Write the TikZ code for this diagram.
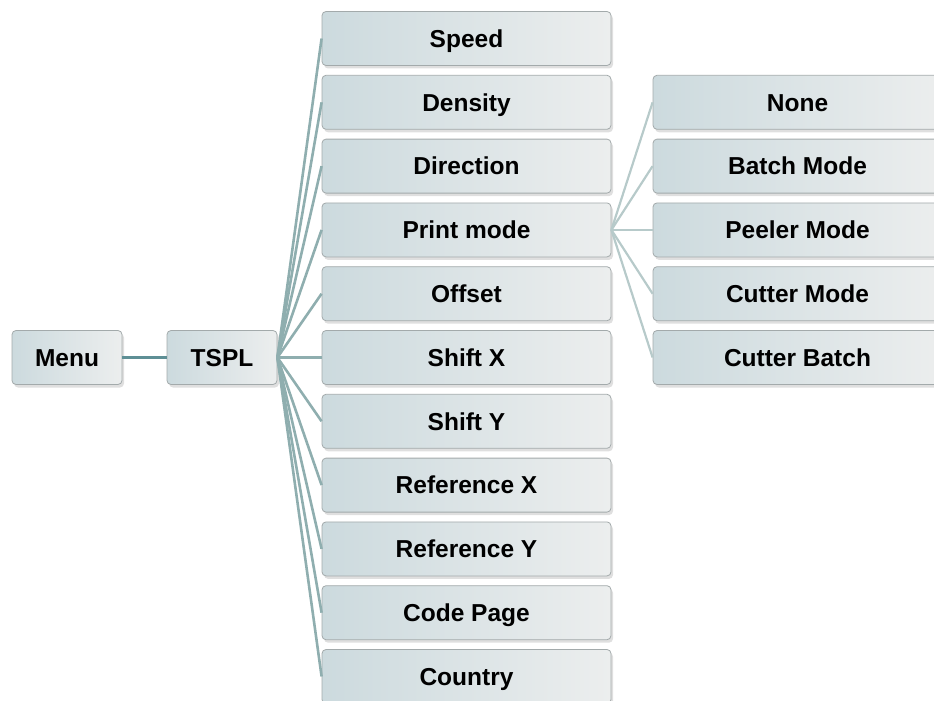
\documentclass[tikz,border=0pt]{standalone}
\usepackage{fontspec}
\setmainfont{Liberation Sans}
\usetikzlibrary{shadows}
\definecolor{boxleft}{HTML}{CCDADE}
\definecolor{boxright}{HTML}{ECEEEE}
\definecolor{boxline}{HTML}{A3AAAB}
\definecolor{linkA}{HTML}{5E8F95}
\definecolor{linkB}{HTML}{8FAEAF}
\definecolor{linkC}{HTML}{B7CACA}
\begin{document}
\begin{tikzpicture}[x=1pt,y=-1pt,
  menubox/.style={draw=boxline, line width=0.8pt, rounded corners=4pt,
    left color=boxleft, right color=boxright,
    drop shadow={opacity=0.25, shadow xshift=2pt, shadow yshift=-3pt},
    minimum height=54pt, inner sep=0pt, text height=17.5pt, text depth=0pt,
    font=\fontsize{24.5}{28}\selectfont\bfseries},
  smallbox/.style={menubox, minimum width=110pt},
  midbox/.style={menubox, minimum width=289pt},
  linkmain/.style={draw=linkA, line width=3pt},
  linkfan/.style={draw=linkB, line width=2.6pt},
  linksub/.style={draw=linkC, line width=2.2pt}]
\useasboundingbox (0,0) rectangle (934,701);
\node[smallbox] (menu) at (67,357.5) {Menu};
\node[smallbox] (tspl) at (222,357.5) {TSPL};
\foreach \n/\t [count=\i from 0] in {speed/Speed,density/Density,direction/Direction,printmode/Print mode,offset/Offset,shiftx/Shift X,shifty/Shift Y,refx/Reference X,refy/Reference Y,codepage/Code Page,country/Country}{
  \node[midbox] (\n) at (466.5,{38.5+63.8*\i}) {\t};
}
\foreach \n/\t [count=\i from 1] in {none/None,batch/Batch Mode,peeler/Peeler Mode,cutter/Cutter Mode,cutbatch/Cutter Batch}{
  \node[midbox] (\n) at (797.5,{38.5+63.8*\i}) {\t};
}
\draw[linkmain] (menu.east) -- (tspl.west);
\foreach \n in {speed,density,direction,printmode,offset,shiftx,shifty,refx,refy,codepage,country}{
  \draw[linkfan] (tspl.east) -- (\n.west);
}
\foreach \n in {none,batch,peeler,cutter,cutbatch}{
  \draw[linksub] (printmode.east) -- (\n.west);
}
\end{tikzpicture}
\end{document}
